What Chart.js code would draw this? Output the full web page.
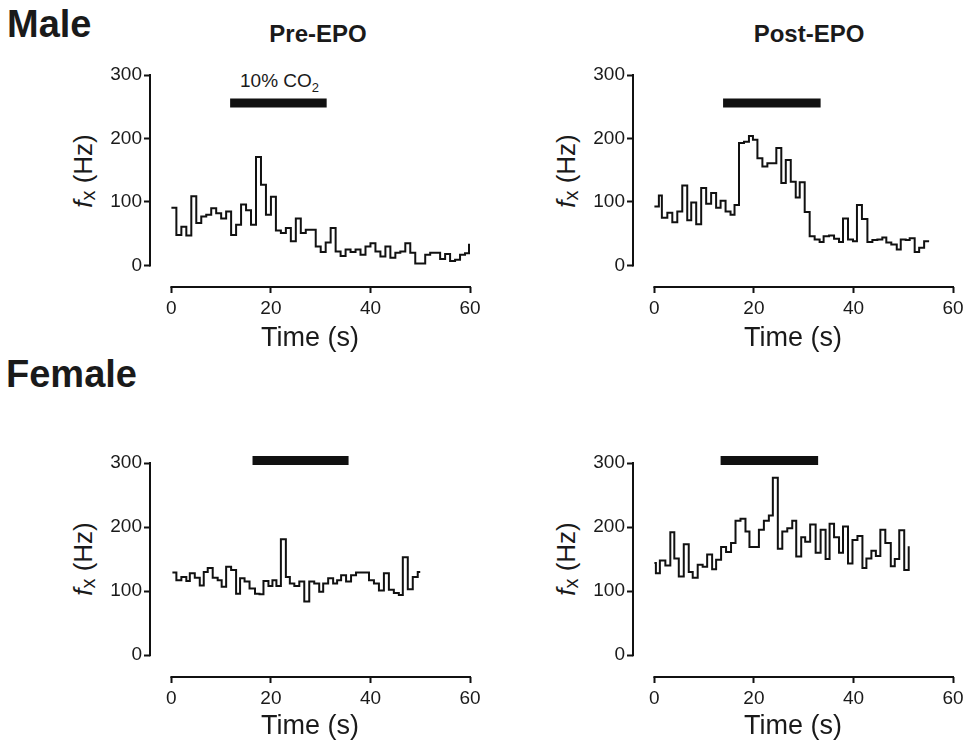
<!DOCTYPE html>
<html>
<head>
<meta charset="utf-8">
<script src="https://cdn.jsdelivr.net/npm/chart.js@4.4.0/dist/chart.umd.min.js"></script>
<style>
body { margin: 0; background: #fff; }
#wrap { position: relative; width: 968px; height: 747px; overflow: hidden; font-family: 'Liberation Sans', Arial, sans-serif; color: #1a1a1a; }
.box { position: absolute; width: 400px; height: 300px; }
.lbl { position: absolute; white-space: nowrap; line-height: 1; }
.big { font-weight: bold; font-size: 38px; }
.head { font-weight: bold; font-size: 24px; width: 200px; text-align: center; }
.ytitle { position: absolute; width: 120px; height: 30px; line-height: 30px; text-align: center; font-size: 26px; transform: rotate(-90deg); white-space: nowrap; }
.ytitle sub { font-size: 20px; vertical-align: -3px; }
</style>
</head>
<body>
<div id="wrap">
  <div class="lbl big" style="left:7px; top:5px;">Male</div>
  <div class="lbl big" style="left:6px; top:355px;">Female</div>
  <div class="lbl head" style="left:218px; top:22px;">Pre-EPO</div>
  <div class="lbl head" style="left:709px; top:22px;">Post-EPO</div>
  <div class="lbl" style="left:240px; top:71px; font-size:19px;">10% CO<sub style="font-size:13px;">2</sub></div>

  <div class="ytitle" style="left:23px; top:156px;"><i>f</i><sub>x</sub> (Hz)</div>
  <div class="ytitle" style="left:506px; top:156px;"><i>f</i><sub>x</sub> (Hz)</div>
  <div class="ytitle" style="left:23px; top:544px;"><i>f</i><sub>x</sub> (Hz)</div>
  <div class="ytitle" style="left:506px; top:544px;"><i>f</i><sub>x</sub> (Hz)</div>

  <div class="box" style="left:90px; top:55px;"><canvas id="malePre"></canvas></div>
  <div class="box" style="left:573px; top:55px;"><canvas id="malePost"></canvas></div>
  <div class="box" style="left:90px; top:443px;"><canvas id="femalePre"></canvas></div>
  <div class="box" style="left:573px; top:443px;"><canvas id="femalePost"></canvas></div>
</div>
<script>
// tick labels
var yTicks = [0, 100, 200, 300];
var timeTicks = [0, 20, 40, 60];

// Male, Pre-EPO  (step start times in s, frequency in Hz; last entry = end of trace)
var malePreT = [0,1,2,3,4,5,6,7,8,9,10,11,12,13,14,15,16,17,18,19,20,21,22,23,24,25,26,27,28,29,
                30,31,32,33,34,35,36,37,38,39,40,41,42,43,44,45,46,47,48,49,50,51,52,53,54,55,56,57,58,59,59.8];
var malePreF = [91,48,61,47,109,67,77,80,90,82,74,85,48,64,96,87,64,171,127,80,108,55,51,59,38,74,51,56,56,30,
                21,36,59,22,15,25,21,25,17,30,35,22,14,30,12,20,22,35,20,3,3,17,20,20,10,18,7,9,17,19,34];

// Male, Post-EPO
var malePostT = [0,0.9,1.5,2.6,3.6,4.6,5.6,6.6,7.4,8.4,9.4,10.4,11.4,12.4,13.3,14.3,15.3,16.1,17,18,
                 19,19.8,20.7,21.7,22.7,24.5,25.5,26.4,27.4,28.4,29.2,30.2,31.2,32.2,33.2,34,35.1,36.1,37.1,37.9,
                 38.9,39.9,40.7,41.7,42.8,43.8,44.8,45.8,46.6,47.6,48.7,49.5,50.5,51.3,52.3,53.2,54.2,55.2];
var malePostF = [93,110,75,83,68,85,126,71,99,65,122,97,114,91,102,85,80,95,193,195,
                 204,198,169,156,161,185,130,166,132,107,131,84,46,41,37,46,47,42,37,74,
                 41,38,95,73,37,40,41,44,36,33,25,41,40,43,21,28,38,38];

// Female, Pre-EPO
var femalePreT = [0.2,1,2,3,3.7,4.7,5.7,6.5,7.3,8.3,9.3,10.1,11,12,13,13.8,14.7,15.7,16.8,17.7,
                  18.5,19.5,20.3,21.1,22,23,23.8,24.7,25.7,26.7,27.7,28.7,29.7,30.5,31.5,32.5,33.3,34.1,35.1,36.1,
                  37.1,39.7,40.7,41.7,42.7,43.7,44.7,45.7,46.5,47.5,48.5,49.5,50];
var femalePreF = [129,117,122,116,128,121,109,130,136,121,117,107,138,133,96,120,115,104,96,95,
                  116,108,117,108,181,122,112,108,115,84,115,112,99,112,120,112,117,125,115,125,
                  129,117,112,101,128,102,97,94,153,103,122,130,130];

// Female, Post-EPO
var femalePostT = [0,0.3,1.1,2.2,3.2,4,4.9,5.9,6.9,7.7,8.7,9.7,10.6,11.6,12.4,13.4,14.4,15.4,16.3,17.3,
                   18.3,19.1,21,22,23,23.8,24.8,25.7,26.7,27.7,28.5,29.5,30.3,31.3,32.4,33.4,34.4,35.2,36.1,37.1,
                   37.9,38.9,39.8,40.8,41.8,42.6,43.6,44.5,45.4,46.4,47.5,48.3,49.2,50.2,51.1,51.1];
var femalePostF = [144,128,148,140,192,151,123,173,130,121,141,138,157,134,149,169,161,175,210,213,
                   193,169,196,210,218,277,166,193,198,210,154,184,177,204,160,196,150,205,184,160,
                   201,143,180,186,136,151,163,155,196,175,139,150,195,133,133,170];

// 10% CO2 exposure: [start, end] in s, and the level it is drawn at
var malePreCO2 = [11.8, 31.2];
var malePostCO2 = [13.8, 33.4];
var femalePreCO2 = [16.3, 35.6];
var femalePostCO2 = [13.3, 32.9];
var co2Level = [256, 256, 304, 304];

Chart.defaults.font.family = "'Liberation Sans', Arial, sans-serif";
Chart.defaults.color = '#1a1a1a';

// axis lines only from first to last tick (offset axes)
var axisLines = {
    id: 'axisLines',
    afterDraw: function(chart) {
        var ctx = chart.ctx, area = chart.chartArea, sx = chart.scales.x, sy = chart.scales.y;
        ctx.save();
        ctx.strokeStyle = '#111';
        ctx.lineWidth = 2;
        ctx.beginPath();
        ctx.moveTo(area.left, sy.getPixelForValue(yTicks[0]) + 1);
        ctx.lineTo(area.left, sy.getPixelForValue(yTicks[yTicks.length - 1]) - 1);
        ctx.moveTo(sx.getPixelForValue(timeTicks[0]) - 1, area.bottom);
        ctx.lineTo(sx.getPixelForValue(timeTicks[timeTicks.length - 1]) + 1, area.bottom);
        ctx.stroke();
        ctx.restore();
    }
};

function makePanel(id, times, freq, co2, level, xH) {
    var ctx = document.getElementById(id).getContext('2d');
    return new Chart(ctx, {
        type: 'line',
        data: {
            datasets: [
                {
                    data: times.map(function(t, i) { return {x: t, y: freq[i]}; }),
                    borderColor: '#111',
                    borderWidth: 2,
                    stepped: true,
                    pointRadius: 0
                },
                {
                    data: co2.map(function(t) { return {x: t, y: level}; }),
                    borderColor: '#111',
                    borderWidth: 9,
                    borderCapStyle: 'butt',
                    pointRadius: 0,
                    clip: false
                }
            ]
        },
        options: {
            responsive: false,
            animation: false,
            layout: { padding: { top: 20, right: 20, left: 0, bottom: 0 } },
            plugins: { legend: { display: false }, tooltip: { enabled: false } },
            scales: {
                x: {
                    type: 'linear',
                    min: -4.3,
                    max: 60,
                    afterBuildTicks: function(s) { s.ticks = timeTicks.map(function(v) { return {value: v}; }); },
                    afterFit: function(s) { s.height = xH; },
                    border: { display: false },
                    grid: { drawOnChartArea: false, drawTicks: true, tickLength: 6, tickWidth: 2, color: '#111' },
                    ticks: { font: { size: 19 }, padding: 4, maxRotation: 0 },
                    title: { display: true, text: 'Time (s)', font: { size: 27 }, padding: { top: 0, bottom: 0 } }
                },
                y: {
                    min: -34,
                    max: 300,
                    afterBuildTicks: function(s) { s.ticks = yTicks.map(function(v) { return {value: v}; }); },
                    afterFit: function(s) { s.width = 60; },
                    border: { display: false },
                    grid: { drawOnChartArea: false, drawTicks: true, tickLength: 6, tickWidth: 2, color: '#111' },
                    ticks: { font: { size: 19 }, padding: 2 }
                }
            }
        },
        plugins: [axisLines]
    });
}

document.querySelectorAll('canvas').forEach(function(c) { c.width = 400; c.height = 300; });

var chart1 = makePanel('malePre', malePreT, malePreF, malePreCO2, co2Level[0], 68);
var chart2 = makePanel('malePost', malePostT, malePostF, malePostCO2, co2Level[1], 68);
var chart3 = makePanel('femalePre', femalePreT, femalePreF, femalePreCO2, co2Level[2], 66);
var chart4 = makePanel('femalePost', femalePostT, femalePostF, femalePostCO2, co2Level[3], 66);
</script>
</body>
</html>
